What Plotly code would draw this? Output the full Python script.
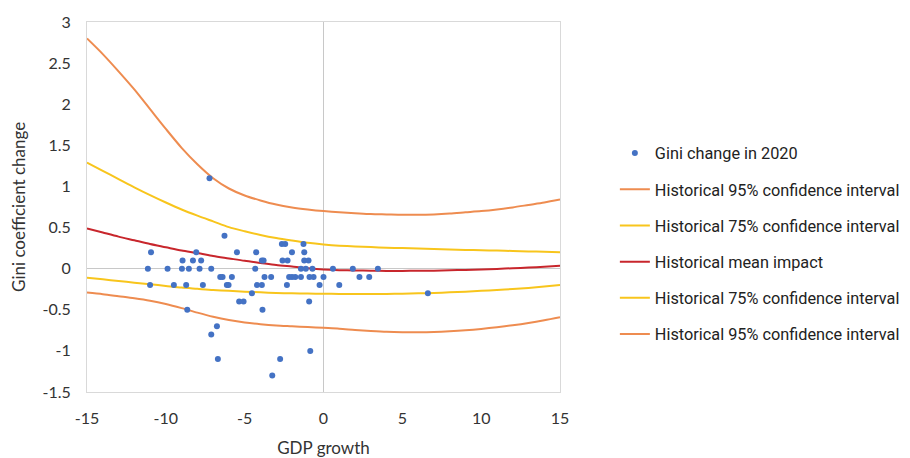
import plotly.graph_objects as go

# Scatter: Gini change in 2020 vs GDP growth
gdp_growth = [-7.23, -6.28,
              -2.64, -2.43, -1.27,
              -10.94, -8.07, -5.49, -4.27, -2.0, -1.22,
              -8.94, -8.28, -7.76, -3.91, -3.80, -2.60, -2.28, -1.22, -0.95,
              -11.14, -9.89, -8.98, -8.54, -7.86, -7.12, -4.33, -1.43, -1.12, -0.70, 0.60, 1.86, 3.45,
              -6.55, -6.40, -5.81, -3.74, -3.32, -2.18, -2.0, -1.79, -1.43, -0.89, -0.63, 0.0, 2.28, 2.90,
              -11.0, -9.49, -8.71, -7.65, -6.13, -6.02, -4.22, -3.91, -2.32, -0.25, 1.0,
              -4.54, 6.62,
              -5.35, -5.07, -0.91,
              -8.64, -3.87,
              -6.76,
              -7.12,
              -0.84,
              -6.70, -2.75,
              -3.25]
gini_change = [1.1, 0.4,
               0.3, 0.3, 0.3,
               0.2, 0.2, 0.2, 0.2, 0.2, 0.2,
               0.1, 0.1, 0.1, 0.1, 0.1, 0.1, 0.1, 0.1, 0.1,
               0, 0, 0, 0, 0, 0, 0, 0, 0, 0, 0, 0, 0,
               -0.1, -0.1, -0.1, -0.1, -0.1, -0.1, -0.1, -0.1, -0.1, -0.1, -0.1, -0.1, -0.1, -0.1,
               -0.2, -0.2, -0.2, -0.2, -0.2, -0.2, -0.2, -0.2, -0.2, -0.2, -0.2,
               -0.3, -0.3,
               -0.4, -0.4, -0.4,
               -0.5, -0.5,
               -0.7,
               -0.8,
               -1.0,
               -1.1, -1.1,
               -1.3]

# Historical curves, read at integer GDP growth values from -15 to 15
curve_x = [-15, -14, -13, -12, -11, -10, -9, -8, -7, -6, -5, -4, -3, -2, -1, 0,
           1, 2, 3, 4, 5, 6, 7, 8, 9, 10, 11, 12, 13, 14, 15]
upper95 = [2.80, 2.61, 2.40, 2.18, 1.94, 1.70, 1.47, 1.27, 1.10, 0.975, 0.89, 0.83, 0.78, 0.745, 0.72, 0.70,
           0.685, 0.675, 0.665, 0.66, 0.655, 0.655, 0.66, 0.67, 0.685, 0.70, 0.72, 0.745, 0.775, 0.805, 0.84]
upper75 = [1.29, 1.19, 1.09, 0.99, 0.895, 0.805, 0.72, 0.645, 0.575, 0.505, 0.455, 0.41, 0.372, 0.342, 0.315, 0.295,
           0.28, 0.27, 0.262, 0.255, 0.25, 0.245, 0.24, 0.232, 0.228, 0.224, 0.22, 0.215, 0.21, 0.205, 0.20]
mean_impact = [0.49, 0.44, 0.39, 0.345, 0.30, 0.26, 0.22, 0.19, 0.155, 0.125, 0.095, 0.07, 0.045, 0.025, 0.005, -0.01,
               -0.018, -0.022, -0.025, -0.027, -0.027, -0.026, -0.024, -0.02, -0.015, -0.01, -0.003, 0.005, 0.013, 0.023, 0.035]
lower75 = [-0.11, -0.13, -0.15, -0.17, -0.19, -0.21, -0.23, -0.245, -0.26, -0.27, -0.28, -0.288, -0.295, -0.30, -0.303, -0.305,
           -0.307, -0.308, -0.308, -0.307, -0.305, -0.30, -0.295, -0.288, -0.28, -0.27, -0.26, -0.248, -0.235, -0.218, -0.20]
lower95 = [-0.29, -0.31, -0.335, -0.36, -0.39, -0.43, -0.48, -0.535, -0.585, -0.625, -0.655, -0.675, -0.69, -0.70, -0.71, -0.72,
           -0.73, -0.745, -0.757, -0.767, -0.772, -0.773, -0.77, -0.762, -0.75, -0.733, -0.712, -0.688, -0.66, -0.627, -0.59]

x_ticks = [-15, -10, -5, 0, 5, 10, 15]
y_ticks = [-1.5, -1, -0.5, 0, 0.5, 1, 1.5, 2, 2.5, 3]

ORANGE = "#EE8C50"
YELLOW = "#F8C51C"
RED = "#C8262C"
BLUE = "#4472C4"
TEXT = "#333333"

fig = go.Figure()
line_specs = [
    ("Historical 95% confidence interval", upper95, ORANGE, "b", 2),
    ("Historical 75% confidence interval", upper75, YELLOW, "c", 3),
    ("Historical mean impact", mean_impact, RED, "d", 4),
    ("Historical 75% confidence interval", lower75, YELLOW, "e", 5),
    ("Historical 95% confidence interval", lower95, ORANGE, "f", 6),
]
for name, vals, col, grp, rank in line_specs:
    fig.add_trace(go.Scatter(x=curve_x, y=vals, mode="lines", name=name,
                             line=dict(color=col, width=2, shape="spline", smoothing=0.8),
                             legendgroup=grp, legendrank=rank))
fig.add_trace(go.Scatter(x=gdp_growth, y=gini_change, mode="markers", name="Gini change in 2020",
                         marker=dict(color=BLUE, size=6), legendgroup="a", legendrank=1))

# the page body has an 8px default margin; figure is sized to end at the window edge
fig.update_layout(
    width=902, height=450,
    margin=dict(l=79, r=350, t=14, b=66, autoexpand=False),
    paper_bgcolor="white", plot_bgcolor="white",
    font=dict(family="Lato, sans-serif", size=16, color=TEXT),
    showlegend=True,
    legend=dict(
        x=1.116, xanchor="left", y=0.40, yanchor="middle",
        traceorder="grouped", tracegroupgap=12,
        font=dict(family="Roboto, sans-serif", size=16.3, color="#222222"),
        bgcolor="rgba(0,0,0,0)",
    ),
    annotations=[dict(
        text="Gini coefficient change", textangle=-90, showarrow=False,
        xref="paper", yref="paper", x=-0.146, y=0.5, xanchor="center", yanchor="middle",
        font=dict(size=17, color=TEXT),
    )],
)
fig.update_xaxes(
    range=[-15, 15], tickvals=x_ticks, ticktext=[str(t) for t in x_ticks],
    showgrid=False, zeroline=True, zerolinecolor="#c8c8c8", zerolinewidth=1,
    showline=True, mirror=True, linecolor="#d9d9d9", linewidth=1,
    ticks="outside", ticklen=12, tickcolor="rgba(0,0,0,0)",
    tickfont=dict(size=16, color=TEXT), automargin=False,
    title=dict(text="GDP growth", font=dict(size=17, color=TEXT), standoff=26),
)
fig.update_yaxes(
    range=[-1.5, 3], tickvals=y_ticks, ticktext=[f"{t:g}" for t in y_ticks],
    showgrid=False, zeroline=True, zerolinecolor="#c8c8c8", zerolinewidth=1,
    showline=True, mirror=True, linecolor="#d9d9d9", linewidth=1,
    ticks="outside", ticklen=12, tickcolor="rgba(0,0,0,0)",
    tickfont=dict(size=16, color=TEXT), automargin=False,
)

fig.write_html("out.html")
